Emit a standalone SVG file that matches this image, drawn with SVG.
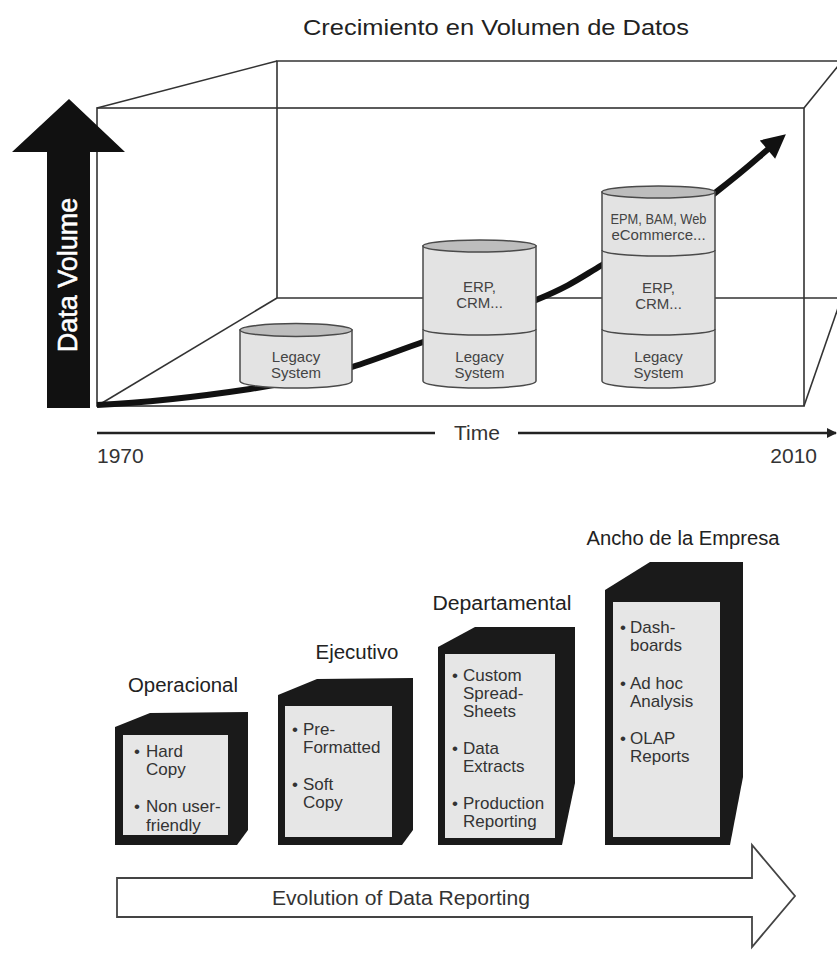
<svg xmlns="http://www.w3.org/2000/svg" width="837" height="953" viewBox="0 0 837 953">
<defs>
<style>
.lbl{font-family:"Liberation Sans",Arial,sans-serif;fill:#222}
.frame{fill:none;stroke:#333;stroke-width:1.6}
.cyl{fill:#e3e3e3;stroke:#4a4a4a;stroke-width:1.5}
.cyltop{fill:#bdbdbd;stroke:#4a4a4a;stroke-width:1.5}
.div{fill:none;stroke:#4a4a4a;stroke-width:1.5}
.ct{font-family:"Liberation Sans",Arial,sans-serif;font-size:15px;fill:#444;text-anchor:middle}
.yr{font-family:"Liberation Sans",Arial,sans-serif;font-size:21px;fill:#333}
.blk{fill:#1a1a1a}
.panel{fill:#e6e6e6}
.it{font-family:"Liberation Sans",Arial,sans-serif;font-size:17px;fill:#333}
.stage{font-family:"Liberation Sans",Arial,sans-serif;font-size:20px;fill:#222;text-anchor:middle}
</style>
<marker id="headBig" viewBox="0 0 10 10" refX="3" refY="5" markerWidth="4.5" markerHeight="4" orient="auto" markerUnits="strokeWidth">
<path d="M0,0 L10,5 L0,10 Z" fill="#111"/>
</marker>
<marker id="headSmall" viewBox="0 0 10 10" refX="9" refY="5" markerWidth="4" markerHeight="4" orient="auto" markerUnits="strokeWidth">
<path d="M0,0 L10,5 L0,10 Z" fill="#222"/>
</marker>
</defs>
<rect width="837" height="953" fill="#fff"/>

<text id="title" class="lbl" x="496" y="35" font-size="22" text-anchor="middle" textLength="386" lengthAdjust="spacingAndGlyphs">Crecimiento en Volumen de Datos</text>

<g id="chart-frame">
<polyline class="frame" points="838,61 277,61 277,298 838,298"/>
<rect class="frame" x="97" y="108" width="707" height="298"/>
<line class="frame" x1="97" y1="108" x2="277" y2="61"/>
<line class="frame" x1="97" y1="406" x2="277" y2="298"/>
<line class="frame" x1="804" y1="108" x2="838" y2="66"/>
<line class="frame" x1="804" y1="406" x2="838" y2="308"/>
</g>

<g id="connectors">
<path id="growth-curve" d="M97,405 C160,402 210,395 250,389 S330,374 352,367 S400,350 423,342 S500,315 536,300 S580,278 602,265 S680,220 715,193 S755,160 773,145" fill="none" stroke="#111" stroke-width="6" marker-end="url(#headBig)"/>
<line id="time-axis" x1="97" y1="433" x2="435" y2="433" stroke="#222" stroke-width="2.5"/>
<line x1="518" y1="433" x2="836" y2="433" stroke="#222" stroke-width="2.5" marker-end="url(#headSmall)"/>
</g>

<g id="cyl-1">
<path class="cyl" d="M240,330 L240,381 A56,7 0 0 0 352,381 L352,330 Z"/>
<ellipse class="cyltop" cx="296" cy="330" rx="56" ry="6.5"/>
<text class="ct" x="296" y="362">Legacy</text>
<text class="ct" x="296" y="378">System</text>
</g>

<g id="cyl-2">
<path class="cyl" d="M423,246 L423,381 A56.5,7 0 0 0 536,381 L536,246 Z"/>
<ellipse class="cyltop" cx="479.5" cy="246" rx="56.5" ry="6"/>
<path class="div" d="M423,329 A56.5,6 0 0 0 536,329"/>
<text class="ct" x="479.5" y="292">ERP,</text>
<text class="ct" x="479.5" y="308">CRM...</text>
<text class="ct" x="479.5" y="362">Legacy</text>
<text class="ct" x="479.5" y="378">System</text>
</g>

<g id="cyl-3">
<path class="cyl" d="M602,192 L602,381 A56.5,7 0 0 0 715,381 L715,192 Z"/>
<ellipse class="cyltop" cx="658.5" cy="192" rx="56.5" ry="6"/>
<path class="div" d="M602,250 A56.5,6 0 0 0 715,250"/>
<path class="div" d="M602,329 A56.5,6 0 0 0 715,329"/>
<text class="ct" x="658.5" y="224" font-size="12.5" textLength="96" lengthAdjust="spacingAndGlyphs">EPM, BAM, Web</text>
<text class="ct" x="658.5" y="240" font-size="12.5">eCommerce...</text>
<text class="ct" x="658.5" y="293">ERP,</text>
<text class="ct" x="658.5" y="309">CRM...</text>
<text class="ct" x="658.5" y="362">Legacy</text>
<text class="ct" x="658.5" y="378">System</text>
</g>

<g id="data-volume-axis">
<polygon points="69,99 125,152 90,152 90,408 47,408 47,152 12,152" fill="#111"/>
<text x="0" y="0" transform="translate(77,275) rotate(-90)" font-family="Liberation Sans,Arial,sans-serif" font-size="27" fill="#fff" stroke="#fff" stroke-width="0.5" text-anchor="middle">Data Volume</text>
</g>

<g id="time-labels">
<text class="yr" x="97" y="463">1970</text>
<text class="yr" x="477" y="440" text-anchor="middle">Time</text>
<text class="yr" x="817" y="463" text-anchor="end">2010</text>
</g>

<g id="stage-operacional">
<text class="stage" x="183" y="692" textLength="110" lengthAdjust="spacingAndGlyphs">Operacional</text>
<polygon class="blk" points="115,727 150,713 248,712 248,830 237,845 115,845"/>
<rect class="panel" x="123" y="735" width="105" height="100"/>
<text class="it" x="134" y="757">•</text>
<text class="it" x="146" y="757">Hard</text>
<text class="it" x="146" y="775">Copy</text>
<text class="it" x="134" y="812">•</text>
<text class="it" x="146" y="812">Non user-</text>
<text class="it" x="146" y="831">friendly</text>
</g>

<g id="stage-ejecutivo">
<text class="stage" x="357" y="659" textLength="83" lengthAdjust="spacingAndGlyphs">Ejecutivo</text>
<polygon class="blk" points="278,695 317,679 413,678 413,830 402,845 278,845"/>
<rect class="panel" x="285" y="706" width="107" height="131"/>
<text class="it" x="292" y="735">•</text>
<text class="it" x="303" y="735">Pre-</text>
<text class="it" x="303" y="753">Formatted</text>
<text class="it" x="292" y="790">•</text>
<text class="it" x="303" y="790">Soft</text>
<text class="it" x="303" y="808">Copy</text>
</g>

<g id="stage-departamental">
<text class="stage" x="502" y="610" textLength="139" lengthAdjust="spacingAndGlyphs">Departamental</text>
<polygon class="blk" points="438,647 475,627 575,627 575,783 562,845 438,845"/>
<rect class="panel" x="445" y="654" width="110" height="184"/>
<text class="it" x="452" y="681">•</text>
<text class="it" x="463" y="681">Custom</text>
<text class="it" x="463" y="699">Spread-</text>
<text class="it" x="463" y="717">Sheets</text>
<text class="it" x="452" y="754">•</text>
<text class="it" x="463" y="754">Data</text>
<text class="it" x="463" y="772">Extracts</text>
<text class="it" x="452" y="809">•</text>
<text class="it" x="463" y="809">Production</text>
<text class="it" x="463" y="827">Reporting</text>
</g>

<g id="stage-ancho">
<text class="stage" x="683" y="545" textLength="193" lengthAdjust="spacingAndGlyphs">Ancho de la Empresa</text>
<polygon class="blk" points="605,590 650,562 743,562 743,777 730,845 605,845"/>
<rect class="panel" x="613" y="602" width="107" height="235"/>
<text class="it" x="620" y="633">•</text>
<text class="it" x="630" y="633">Dash-</text>
<text class="it" x="630" y="651">boards</text>
<text class="it" x="620" y="689">•</text>
<text class="it" x="630" y="689">Ad hoc</text>
<text class="it" x="630" y="707">Analysis</text>
<text class="it" x="620" y="744">•</text>
<text class="it" x="630" y="744">OLAP</text>
<text class="it" x="630" y="762">Reports</text>
</g>

<g id="evolution-arrow">
<polygon points="117,878 752,878 752,845 795,896 752,947 752,917 117,917" fill="#fff" stroke="#444" stroke-width="1.8" stroke-linejoin="miter"/>
<text x="272" y="905" font-family="Liberation Sans,Arial,sans-serif" font-size="20" fill="#333" textLength="258" lengthAdjust="spacingAndGlyphs">Evolution of Data Reporting</text>
</g>
</svg>
